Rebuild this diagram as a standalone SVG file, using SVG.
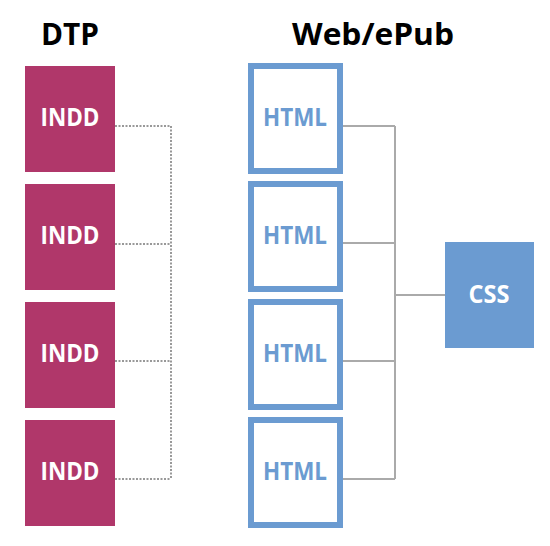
<svg xmlns="http://www.w3.org/2000/svg" width="550" height="546" viewBox="0 0 550 546">
<style>
.title{font-family:"Open Sans","Liberation Sans",sans-serif;font-weight:bold;font-size:31px;fill:#000;text-anchor:middle}
.lbl{font-family:"Open Sans","Liberation Sans",sans-serif;font-weight:bold;font-size:25px;text-anchor:middle}
.indd{fill:#B0376A}
.html{fill:#fff;stroke:#6B9BD1;stroke-width:6}
.css{fill:#6B9BD1}
.dot{fill:none;stroke:#999;stroke-width:2;stroke-dasharray:2 1.5}
.sol{fill:none;stroke:#aaa;stroke-width:2}
</style>
<rect width="550" height="546" fill="#fff"/>
<text class="title" x="70" y="45" textLength="58" lengthAdjust="spacingAndGlyphs">DTP</text>
<text class="title" x="373" y="45" textLength="162" lengthAdjust="spacingAndGlyphs">Web/ePub</text>
<g id="connectors">
<path class="dot" d="M115 126H171M115 244H171M115 361H171M115 479H171M171 126V479"/>
<path class="sol" d="M343 126H395M343 243H395M343 361H395M343 479H395M395 126V479M395 295H445"/>
</g>
<g id="indd1"><rect class="indd" x="25" y="66" width="90" height="106"/><text class="lbl" x="70" y="126" fill="#fff" textLength="59" lengthAdjust="spacingAndGlyphs">INDD</text></g>
<g id="indd2"><rect class="indd" x="25" y="184" width="90" height="106"/><text class="lbl" x="70" y="244" fill="#fff" textLength="59" lengthAdjust="spacingAndGlyphs">INDD</text></g>
<g id="indd3"><rect class="indd" x="25" y="302" width="90" height="106"/><text class="lbl" x="70" y="362" fill="#fff" textLength="59" lengthAdjust="spacingAndGlyphs">INDD</text></g>
<g id="indd4"><rect class="indd" x="25" y="420" width="90" height="106"/><text class="lbl" x="70" y="480" fill="#fff" textLength="59" lengthAdjust="spacingAndGlyphs">INDD</text></g>
<g id="html1"><rect class="html" x="251" y="66" width="89" height="105"/><text class="lbl" x="295" y="126" fill="#6B9BD1" textLength="64" lengthAdjust="spacingAndGlyphs">HTML</text></g>
<g id="html2"><rect class="html" x="251" y="184" width="89" height="105"/><text class="lbl" x="295" y="244" fill="#6B9BD1" textLength="64" lengthAdjust="spacingAndGlyphs">HTML</text></g>
<g id="html3"><rect class="html" x="251" y="302" width="89" height="105"/><text class="lbl" x="295" y="362" fill="#6B9BD1" textLength="64" lengthAdjust="spacingAndGlyphs">HTML</text></g>
<g id="html4"><rect class="html" x="251" y="420" width="89" height="105"/><text class="lbl" x="295" y="480" fill="#6B9BD1" textLength="64" lengthAdjust="spacingAndGlyphs">HTML</text></g>
<g id="css"><rect class="css" x="445" y="242" width="89" height="106"/><text class="lbl" x="489" y="303" fill="#fff" textLength="41" lengthAdjust="spacingAndGlyphs">CSS</text></g>
</svg>
